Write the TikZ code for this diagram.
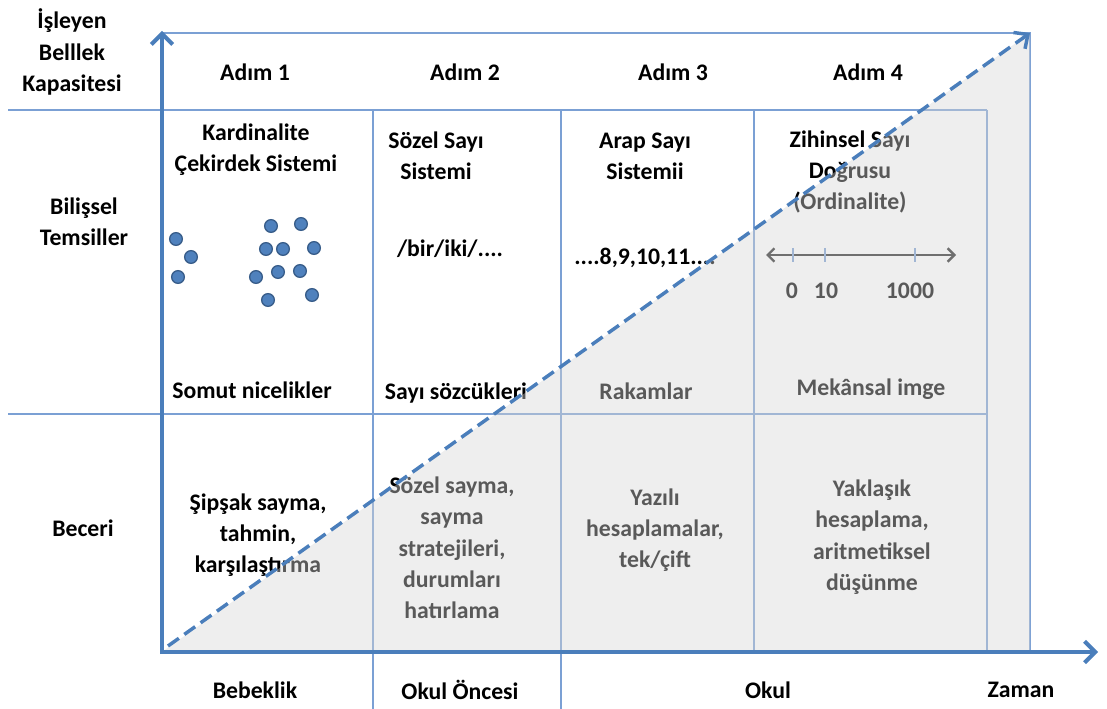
\documentclass[tikz,border=0pt]{standalone}
\usepackage{fontspec}
\setmainfont{Carlito}
\usetikzlibrary{arrows.meta}
\definecolor{axisblue}{HTML}{4A7EBB}
\definecolor{gridblue}{HTML}{7BA0D4}
\definecolor{dotblue}{HTML}{4F81BD}
\definecolor{dotedge}{HTML}{385D8A}
\definecolor{wedgegray}{gray}{0.84}
\begin{document}
\begin{tikzpicture}[x=0.75pt,y=-0.75pt,
  lbl/.style={font=\fontsize{17.8}{23.5}\selectfont\bfseries, align=center, inner sep=0pt},
  gridline/.style={draw=gridblue, line width=1.1pt},
  axis/.style={draw=axisblue, line width=3pt, -{Straight Barb[length=8pt,width=16pt]}},
  dot/.style={circle, fill=dotblue, draw=dotedge, line width=1pt, minimum size=9.5pt, inner sep=0pt},
  shade/.style={fill=wedgegray, fill opacity=0.42, draw=none},
  growth/.style={draw=axisblue, line width=2.6pt, dash pattern=on 10pt off 5pt,
    -{Straight Barb[length=8pt,width=15pt]}},
  numline/.style={draw=black!85, line width=1.8pt,
    {Straight Barb[length=5pt,width=10pt]}-{Straight Barb[length=5pt,width=10pt]}},
  tick/.style={draw=gridblue, line width=0.9pt}
]
\useasboundingbox (0,0) rectangle (1107,709);

% frame corners and axis ends
\coordinate (O) at (162,652);
\coordinate (Ytop) at (162,31);
\coordinate (Xend) at (1098,652);
\coordinate (TL) at (162,33);
\coordinate (TR) at (1030,33);
\coordinate (BR) at (1030,652);

% table rules
\draw[gridline] (8,110) -- (987,110);
\draw[gridline] (8,414) -- (987,414);
\draw[gridline] (373,110) -- (373,709);
\draw[gridline] (561,110) -- (561,709);
\draw[gridline] (754,110) -- (754,652);
\draw[gridline] (987,110) -- (987,652);
\draw[gridline] (TL) -- (TR) -- (BR);

% row headers
\node[lbl] (rh1) at (72,52) {İşleyen\\Belllek\\Kapasitesi};
\node[lbl] (rh2) at (84,222) {Bilişsel\\Temsiller};
\node[lbl] (rh3) at (83,528) {Beceri};

% column headers
\node[lbl] (s1) at (255,72) {Adım 1};
\node[lbl] (s2) at (465,72) {Adım 2};
\node[lbl] (s3) at (673,72) {Adım 3};
\node[lbl] (s4) at (868,72) {Adım 4};

% representations
\node[lbl] (r1) at (256,150) {Kardinalite\\Çekirdek Sistemi};
\node[lbl] (r2) at (436,156) {Sözel Sayı\\Sistemi};
\node[lbl] (r3) at (645,156) {Arap Sayı\\Sistemii};
\node[lbl] (r4) at (850,172) {Zihinsel Sayı\\Doğrusu\\(Ordinalite)};

\node[lbl] (w2) at (450,249) {/bir/iki/....};
\node[lbl] (w3) at (645,258) {....8,9,10,11....};

% quantity dots
\foreach \px/\py [count=\i] in {176/239, 191/257, 178/277, 271/226, 301/224,
  266/249, 283/249, 314/248, 256/277, 278/272, 300/271, 268/300, 312/295}
  \node[dot] (d\i) at (\px,\py) {};

% number line
\coordinate (nlL) at (766,255);
\coordinate (nlR) at (956,255);
\draw[numline] (nlL) -- (nlR);
\draw[tick] (793,248) -- (793,262);
\draw[tick] (825,248) -- (825,262);
\draw[tick] (915,248) -- (915,262);
\node[lbl] (n0) at (792,291) {0};
\node[lbl] (n10) at (826,291) {10};
\node[lbl] (n1000) at (910,291) {1000};

\node[lbl] (b1) at (252,390) {Somut nicelikler};
\node[lbl] (b2) at (456,393) {Sayı sözcükleri};
\node[lbl] (b3) at (646,391) {Rakamlar};
\node[lbl] (b4) at (871,389) {Mekânsal imge};

% skills
\node[lbl] (k1) at (258,535) {Şipşak sayma,\\tahmin,\\karşılaştırma};
\node[lbl] (k2) at (452,548) {Sözel sayma,\\sayma\\stratejileri,\\durumları\\hatırlama};
\node[lbl] (k3) at (655,530) {Yazılı\\hesaplamalar,\\tek/çift};
\node[lbl] (k4) at (872,537) {Yaklaşık\\hesaplama,\\aritmetiksel\\düşünme};

% periods
\node[lbl] (p1) at (255,690) {Bebeklik};
\node[lbl] (p2) at (460,690) {Okul Öncesi};
\node[lbl] (p3) at (768,690) {Okul};
\node[lbl] (p4) at (1021,690) {Zaman};

% capacity wedge
\fill[shade] (O) -- (TR) -- (BR) -- cycle;

% axes
\draw[axis] (162,654) -- (Ytop);
\draw[axis] (160.5,652) -- (Xend);

% growth arrow
\draw[growth] (168,646) -- (TR);
\end{tikzpicture}
\end{document}
